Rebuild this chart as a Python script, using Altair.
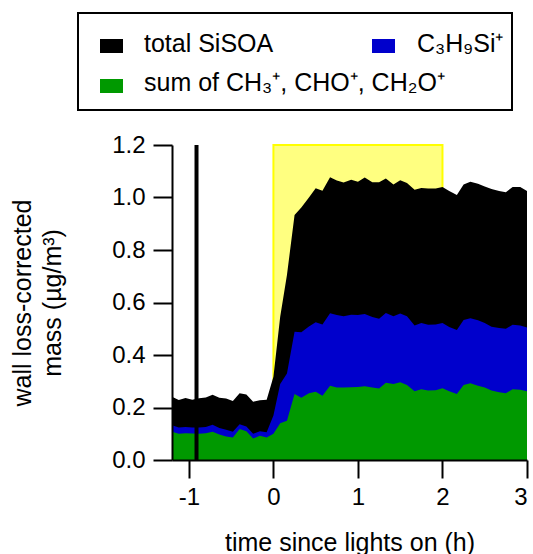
import altair as alt
import pandas as pd

# ---- data ----
time_h = [-1.20, -1.12, -1.04, -0.96, -0.88, -0.80, -0.72, -0.64, -0.56, -0.48,
          -0.40, -0.32, -0.24, -0.16, -0.08, 0.00, 0.08, 0.16, 0.25, 0.33,
          0.42, 0.50, 0.58, 0.67, 0.75, 0.83, 0.92, 1.00, 1.08, 1.17,
          1.25, 1.33, 1.42, 1.50, 1.58, 1.67, 1.75, 1.83, 1.92, 2.00,
          2.08, 2.17, 2.25, 2.33, 2.42, 2.50, 2.58, 2.67, 2.75, 2.83,
          2.92, 3.00]
total_sisoa = [0.241, 0.229, 0.236, 0.230, 0.235, 0.238, 0.249, 0.237, 0.234, 0.225,
               0.254, 0.250, 0.222, 0.228, 0.230, 0.317, 0.546, 0.705, 0.933, 0.962,
               1.000, 1.035, 1.026, 1.077, 1.065, 1.057, 1.068, 1.060, 1.076, 1.058,
               1.058, 1.072, 1.050, 1.066, 1.055, 1.030, 1.036, 1.034, 1.034, 1.040,
               1.025, 1.010, 1.050, 1.060, 1.052, 1.042, 1.032, 1.025, 1.020, 1.040,
               1.040, 1.025]
c3h9si = [0.132, 0.124, 0.126, 0.124, 0.124, 0.126, 0.134, 0.122, 0.115, 0.108,
          0.136, 0.128, 0.100, 0.110, 0.106, 0.170, 0.290, 0.330, 0.489, 0.487,
          0.509, 0.525, 0.516, 0.559, 0.552, 0.548, 0.553, 0.552, 0.556, 0.545,
          0.538, 0.560, 0.548, 0.558, 0.548, 0.512, 0.522, 0.515, 0.516, 0.522,
          0.507, 0.495, 0.533, 0.540, 0.532, 0.522, 0.508, 0.503, 0.500, 0.515,
          0.512, 0.505]
sum_ch = [0.108, 0.100, 0.102, 0.101, 0.100, 0.102, 0.108, 0.097, 0.090, 0.086,
          0.118, 0.110, 0.082, 0.092, 0.086, 0.100, 0.140, 0.150, 0.251, 0.237,
          0.254, 0.260, 0.245, 0.283, 0.276, 0.276, 0.277, 0.278, 0.281, 0.276,
          0.272, 0.294, 0.290, 0.296, 0.286, 0.262, 0.270, 0.265, 0.266, 0.273,
          0.262, 0.251, 0.286, 0.292, 0.283, 0.276, 0.265, 0.258, 0.254, 0.270,
          0.268, 0.262]

lights_start = [0.0]
lights_end = [2.0]
marker_time = [-0.91]
x_ticks = [-1, 0, 1, 2, 3]
y_ticks = [0.0, 0.2, 0.4, 0.6, 0.8, 1.0, 1.2]

legend_labels = ["total SiSOA", "C₃H₉Si⁺", "sum of CH₃⁺, CHO⁺, CH₂O⁺"]

FONT = "Liberation Sans"

df = pd.DataFrame({"t": time_h, "total": total_sisoa, "c3": c3h9si, "ch": sum_ch})
rect_df = pd.DataFrame({"x0": lights_start, "x1": lights_end, "y0": [0.0], "y1": [1.2]})
rule_df = pd.DataFrame({"t": marker_time, "y0": [0.0], "y1": [1.2]})

xscale = alt.Scale(domain=[-1.2, 3.0], nice=False, zero=False)
yscale = alt.Scale(domain=[0.0, 1.2], nice=False)

xaxis = alt.Axis(values=x_ticks, labelExpr="toString(datum.value)",
                 title="time since lights on (h)",
                 grid=False, domainColor="black", domainWidth=2, tickColor="black",
                 tickWidth=2, tickSize=18, labelFont=FONT, labelFontSize=24,
                 labelColor="black", labelPadding=7, titleFont=FONT, titleFontSize=25,
                 titleFontWeight="normal", titleColor="black", titlePadding=21, zindex=1)
yaxis = alt.Axis(values=y_ticks, format=".1f", title=["wall loss-corrected", "mass (µg/m³)"],
                 grid=False, domainColor="black", domainWidth=2, tickColor="black",
                 tickWidth=2, tickSize=19, labelFont=FONT, labelFontSize=24,
                 labelColor="black", labelPadding=8, titleFont=FONT, titleFontSize=25,
                 titleFontWeight="normal", titleColor="black", titlePadding=46,
                 titleLineHeight=30, zindex=1)

lights = alt.Chart(rect_df).mark_rect(fill="#FFFF80", stroke="#FFFF00", strokeWidth=2).encode(
    x=alt.X("x0:Q", scale=xscale, axis=xaxis),
    x2="x1:Q",
    y=alt.Y("y0:Q", scale=yscale, axis=yaxis),
    y2="y1:Q",
)

base = alt.Chart(df)
a_total = base.mark_area(color="#000000", interpolate="linear").encode(
    x=alt.X("t:Q", scale=xscale), y=alt.Y("total:Q", scale=yscale))
a_c3 = base.mark_area(color="#0000CC", interpolate="linear").encode(
    x=alt.X("t:Q", scale=xscale), y=alt.Y("c3:Q", scale=yscale))
a_ch = base.mark_area(color="#009900", interpolate="linear").encode(
    x=alt.X("t:Q", scale=xscale), y=alt.Y("ch:Q", scale=yscale))

marker = alt.Chart(rule_df).mark_rule(color="black", strokeWidth=4).encode(
    x=alt.X("t:Q", scale=xscale), y=alt.Y("y0:Q", scale=yscale), y2="y1:Q")

# ---- legend drawn in pixel space relative to the plot origin ----
leg_box = alt.Chart(rect_df).mark_rect(fill="white", stroke="black", strokeWidth=2).encode(
    x=alt.value(-94), x2=alt.value(340), y=alt.value(-132), y2=alt.value(-35))

def swatch(color, x, y):
    return alt.Chart(rect_df).mark_rect(fill=color, stroke=None).encode(
        x=alt.value(x), x2=alt.value(x + 23), y=alt.value(y), y2=alt.value(y + 14))

def label(text, x, y):
    return alt.Chart(rect_df).mark_text(text=text, font=FONT, fontSize=25, color="black",
                                        align="left", baseline="alphabetic").encode(
        x=alt.value(x), y=alt.value(y))

legend_layers = [
    leg_box,
    swatch("#000000", -72, -106), label(legend_labels[0], -28, -93),
    swatch("#0000CC", 200, -106), label(legend_labels[1], 245, -93),
    swatch("#009900", -72, -66), label(legend_labels[2], -28, -54),
]

chart = alt.layer(lights, a_total, a_c3, a_ch, marker, *legend_layers).properties(
    width=355, height=315,
    autosize=alt.AutoSizeParams(type="none"),
    padding={"left": 172, "top": 145, "right": 6, "bottom": 94},
).configure_view(stroke=None)

chart.save("out.html", embed_options={"renderer": "svg", "actions": False})
